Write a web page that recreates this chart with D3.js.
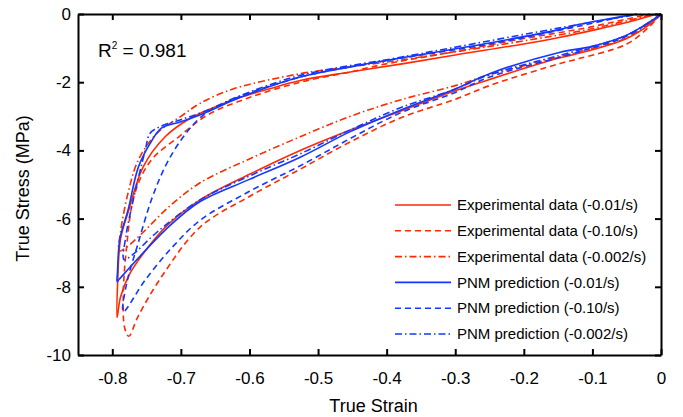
<!DOCTYPE html>
<html>
<head>
<meta charset="utf-8">
<script src="https://cdn.jsdelivr.net/npm/d3@7"></script>
<style>
  body { margin: 0; background: #fff; }
  text { font-family: "Liberation Sans", Arial, sans-serif; fill: #000; }
</style>
</head>
<body>
<svg id="chart" width="683" height="417"></svg>
<script>
var xTicks = [-0.8, -0.7, -0.6, -0.5, -0.4, -0.3, -0.2, -0.1, 0];
var yTicks = [0, -2, -4, -6, -8, -10];

// [strain, stress] : loading branch to the minimum, then unloading back to zero
var expSlow = [[0, 0], [-0.016, -0.3], [-0.05, -0.72], [-0.1, -1.05], [-0.15, -1.3], [-0.2, -1.6],
    [-0.25, -1.92], [-0.3, -2.25], [-0.38, -2.85], [-0.453, -3.4], [-0.526, -4.0], [-0.6, -4.7],
    [-0.672, -5.45], [-0.72, -6.2], [-0.752, -6.95], [-0.774, -7.6], [-0.788, -8.3], [-0.793, -8.9],
    [-0.792, -7.8], [-0.788, -6.6], [-0.776, -5.75], [-0.755, -4.48], [-0.723, -3.6], [-0.69, -3.1],
    [-0.665, -2.85], [-0.614, -2.45], [-0.572, -2.2], [-0.526, -1.95], [-0.453, -1.7], [-0.38, -1.47],
    [-0.3, -1.2], [-0.2, -0.88], [-0.147, -0.68], [-0.1, -0.48], [-0.05, -0.25], [-0.006, 0]];

var expFast = [[0, 0], [-0.016, -0.35], [-0.05, -0.88], [-0.118, -1.3], [-0.147, -1.45], [-0.25, -2.1],
    [-0.3, -2.5], [-0.38, -3.05], [-0.453, -3.75], [-0.526, -4.55], [-0.6, -5.35], [-0.672, -6.25],
    [-0.728, -7.7], [-0.762, -8.85], [-0.776, -9.45], [-0.782, -9.2], [-0.784, -8.3], [-0.78, -7.0],
    [-0.767, -5.25], [-0.743, -4.28], [-0.703, -3.6], [-0.66, -2.95], [-0.6, -2.45], [-0.526, -2.0],
    [-0.453, -1.7], [-0.41, -1.5], [-0.3, -1.1], [-0.2, -0.72], [-0.118, -0.44], [-0.05, -0.15],
    [-0.016, 0]];

var expSlowest = [[0, 0], [-0.05, -0.7], [-0.118, -1.1], [-0.25, -1.78], [-0.3, -2.1], [-0.38, -2.52],
    [-0.453, -3.0], [-0.526, -3.6], [-0.6, -4.25], [-0.672, -4.95], [-0.72, -5.7], [-0.755, -6.4],
    [-0.78, -6.85], [-0.79, -6.95], [-0.788, -6.4], [-0.777, -5.25], [-0.762, -4.28], [-0.735, -3.5],
    [-0.7, -3.0], [-0.672, -2.62], [-0.624, -2.2], [-0.526, -1.75], [-0.453, -1.55], [-0.38, -1.35],
    [-0.25, -0.95], [-0.118, -0.5], [-0.05, -0.2], [-0.01, 0]];

var pnmSlow = [[0, 0], [-0.016, -0.23], [-0.05, -0.62], [-0.1, -0.95], [-0.147, -1.12], [-0.25, -1.75],
    [-0.3, -2.2], [-0.38, -2.82], [-0.453, -3.45], [-0.526, -4.2], [-0.6, -4.85], [-0.672, -5.5],
    [-0.721, -6.3], [-0.79, -7.78], [-0.793, -7.85], [-0.7925, -7.6], [-0.789, -6.6], [-0.777, -5.75],
    [-0.762, -4.49], [-0.745, -3.8], [-0.728, -3.34], [-0.7, -3.16], [-0.665, -2.9], [-0.614, -2.45],
    [-0.526, -1.85], [-0.453, -1.55], [-0.38, -1.29], [-0.25, -0.85], [-0.147, -0.45], [-0.118, -0.3],
    [-0.035, 0]];

var pnmFast = [[0, 0], [-0.05, -0.65], [-0.118, -1.1], [-0.25, -1.85], [-0.3, -2.3], [-0.38, -2.9],
    [-0.453, -3.65], [-0.526, -4.45], [-0.6, -5.2], [-0.672, -6.05], [-0.713, -6.85], [-0.752, -7.8],
    [-0.784, -8.73], [-0.779, -7.9], [-0.762, -6.7], [-0.743, -5.45], [-0.723, -4.48], [-0.7, -3.7],
    [-0.675, -3.1], [-0.655, -2.8], [-0.614, -2.42], [-0.526, -1.85], [-0.453, -1.55], [-0.38, -1.3],
    [-0.25, -0.88], [-0.118, -0.35], [-0.04, 0]];

var pnmSlowest = [[0, 0], [-0.05, -0.62], [-0.118, -1.05], [-0.25, -1.78], [-0.3, -2.2], [-0.38, -2.75],
    [-0.453, -3.4], [-0.526, -4.1], [-0.6, -4.75], [-0.672, -5.45], [-0.735, -6.4], [-0.77, -7.05],
    [-0.783, -7.2], [-0.78, -6.5], [-0.77, -5.5], [-0.752, -4.0], [-0.745, -3.5], [-0.73, -3.3],
    [-0.7, -3.1], [-0.665, -2.85], [-0.614, -2.4], [-0.526, -1.8], [-0.38, -1.27], [-0.118, -0.3],
    [-0.03, 0]];

var seriesNames = ['Experimental data (-0.01/s)', 'Experimental data (-0.10/s)', 'Experimental data (-0.002/s)',
    'PNM prediction (-0.01/s)', 'PNM prediction (-0.10/s)', 'PNM prediction (-0.002/s)'];
var seriesData = [expSlow, expFast, expSlowest, pnmSlow, pnmFast, pnmSlowest];

var red = '#ff2a00', blue = '#1437ff';
var styles = [
    {color: red, dash: null}, {color: red, dash: '6,4'}, {color: red, dash: '7,3,1.5,3'},
    {color: blue, dash: null}, {color: blue, dash: '6,4'}, {color: blue, dash: '7,3,1.5,3'}
];

var margin = {left: 78, right: 22, top: 14, bottom: 62};
var W = 683, H = 417;

var svg = d3.select('#chart');
var x = d3.scaleLinear().domain([-0.85, 0]).range([margin.left, W - margin.right]);
var y = d3.scaleLinear().domain([-10, 0]).range([H - margin.bottom, margin.top]);

var line = d3.line()
    .x(function (d) { return x(d[0]); })
    .y(function (d) { return y(d[1]); })
    .curve(d3.curveCatmullRom.alpha(0.5));

svg.append('g')
    .selectAll('path')
    .data(seriesData)
  .enter().append('path')
    .attr('fill', 'none')
    .attr('stroke', function (d, i) { return styles[i].color; })
    .attr('stroke-width', 1.6)
    .attr('stroke-dasharray', function (d, i) { return styles[i].dash; })
    .attr('d', line);

// box with inward ticks on every side
var tickLen = 6;
function styleAxis(g) {
    g.select('.domain').attr('stroke-width', 2);
    g.selectAll('.tick line').attr('stroke-width', 2);
    g.selectAll('text').style('font-size', '17px').style('font-family', '"Liberation Sans", Arial, sans-serif');
}

svg.append('g')
    .attr('transform', 'translate(0,' + y(-10) + ')')
    .call(d3.axisBottom(x).tickValues(xTicks).tickSizeInner(-tickLen).tickSizeOuter(0)
        .tickPadding(17).tickFormat(d3.format('')))
    .call(styleAxis);

svg.append('g')
    .attr('transform', 'translate(0,' + y(0) + ')')
    .call(d3.axisTop(x).tickValues(xTicks).tickSizeInner(-tickLen).tickSizeOuter(0).tickFormat(''))
    .call(styleAxis);

svg.append('g')
    .attr('transform', 'translate(' + x(-0.85) + ',0)')
    .call(d3.axisLeft(y).tickValues(yTicks).tickSizeInner(-tickLen).tickSizeOuter(0)
        .tickPadding(7).tickFormat(d3.format('')))
    .call(styleAxis);

svg.append('g')
    .attr('transform', 'translate(' + x(0) + ',0)')
    .call(d3.axisRight(y).tickValues(yTicks).tickSizeInner(-tickLen).tickSizeOuter(0).tickFormat(''))
    .call(styleAxis);

svg.selectAll('.tick text').text(function () { return this.textContent.replace('\u2212', '-'); });

svg.append('text')
    .attr('x', (x(-0.85) + x(0)) / 2 + 4)
    .attr('y', 412)
    .attr('text-anchor', 'middle')
    .style('font-size', '18px')
    .text('True Strain');

svg.append('text')
    .attr('transform', 'translate(29,' + (y(-5) + 4) + ') rotate(-90)')
    .attr('text-anchor', 'middle')
    .style('font-size', '18px')
    .text('True Stress (MPa)');

var r2 = svg.append('text')
    .attr('x', 98)
    .attr('y', 57)
    .style('font-size', '19px');
r2.append('tspan').text('R');
r2.append('tspan').attr('dy', -8).style('font-size', '10px').text('2');
r2.append('tspan').attr('dy', 8).text(' = 0.981');

// legend
var legend = svg.append('g').attr('class', 'legend');
var entries = legend.selectAll('.entry')
    .data(seriesNames)
  .enter().append('g')
    .attr('class', 'entry')
    .attr('transform', function (d, i) { return 'translate(395,' + (205 + i * 25.8) + ')'; });

entries.append('line')
    .attr('x1', 0).attr('x2', 56).attr('y1', 0).attr('y2', 0)
    .attr('stroke', function (d, i) { return styles[i].color; })
    .attr('stroke-width', 1.6)
    .attr('stroke-dasharray', function (d, i) { return styles[i].dash; });

entries.append('text')
    .attr('x', 62)
    .attr('dy', '0.35em')
    .style('font-size', '15px')
    .text(function (d) { return d; });
</script>
</body>
</html>
